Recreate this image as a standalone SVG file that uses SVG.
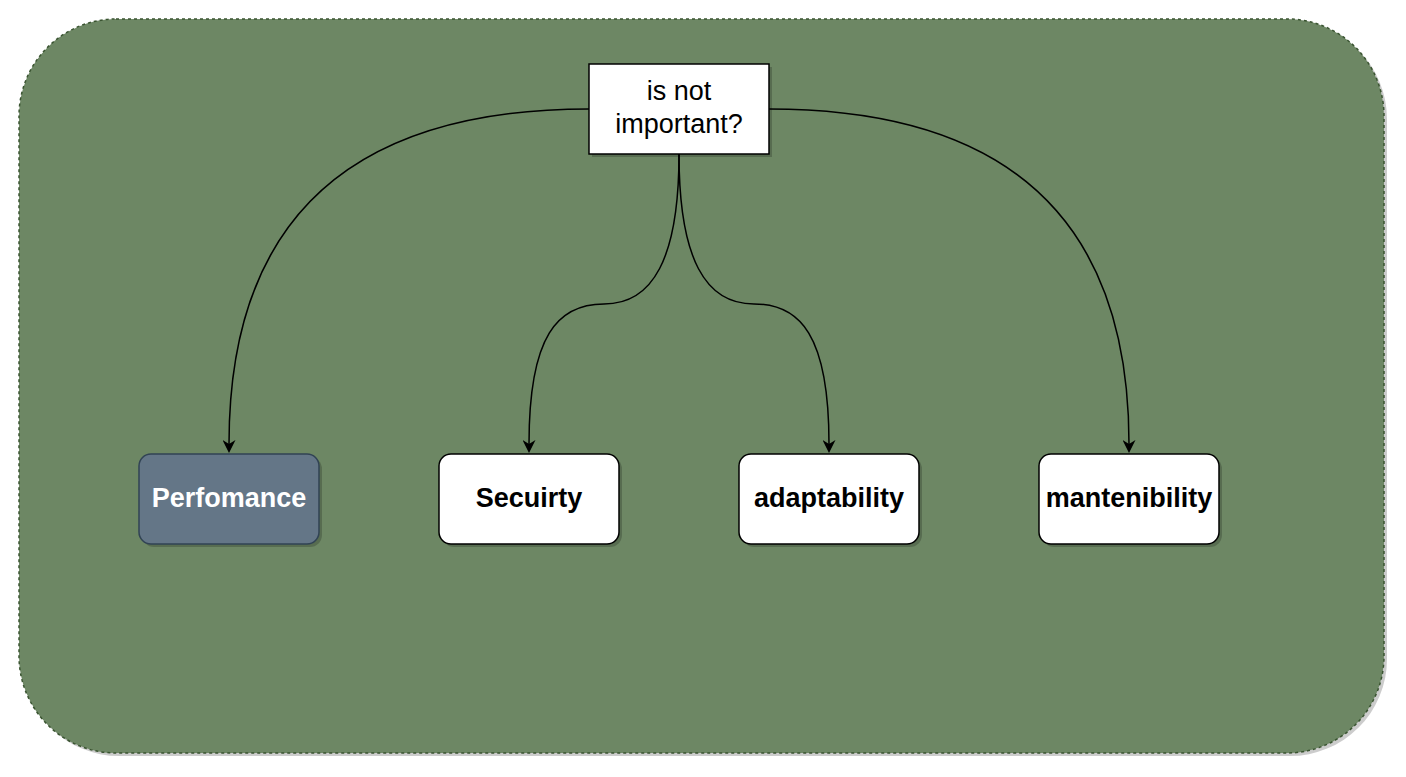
<svg xmlns="http://www.w3.org/2000/svg" width="1406" height="777" viewBox="0 0 1406 777">
<defs>
<marker id="arr" viewBox="0 0 13 13" refX="4" refY="6.5" markerWidth="13" markerHeight="13" markerUnits="userSpaceOnUse" orient="auto">
<path d="M0,0 L13,6.5 L0,13 L4,6.5 Z" fill="#000"/>
</marker>
</defs>
<style>
.shadow{fill:#000;opacity:0.2}
.node{fill:#fff;stroke:#000;stroke-width:1.5}
.lbl{font-family:"Liberation Sans",Arial,sans-serif;font-size:27px;text-anchor:middle;dominant-baseline:central}
.b{font-weight:bold}
.edge{fill:none;stroke:#000;stroke-width:1.5}
</style>
<g id="container">
<rect class="shadow" x="22" y="22" width="1365" height="734" rx="97"/>
<rect x="19" y="19" width="1365" height="734" rx="97" fill="#6d8764" stroke="#3A5431" stroke-width="1.5" stroke-dasharray="3 3"/>
</g>
<g id="connectors">
<path class="edge" d="M589,109 C350,109 229,220 229,444" marker-end="url(#arr)"/>
<path class="edge" d="M769,109 C1008,109 1129,220 1129,444" marker-end="url(#arr)"/>
<path class="edge" d="M679,154 C679,260 652,304 604,304 C558,304 529,335 529,444" marker-end="url(#arr)"/>
<path class="edge" d="M679,154 C679,260 706,304 754,304 C800,304 829,335 829,444" marker-end="url(#arr)"/>
</g>
<g id="question">
<rect class="shadow" x="592" y="67" width="180" height="90"/>
<rect class="node" x="589" y="64" width="180" height="90"/>
<text class="lbl" x="679" y="91">is not</text>
<text class="lbl" x="679" y="124">important?</text>
</g>
<g id="performance">
<rect class="shadow" x="142" y="457" width="180" height="90" rx="12"/>
<rect x="139" y="454" width="180" height="90" rx="12" fill="#647687" stroke="#314354" stroke-width="1.5"/>
<text class="lbl b" x="229" y="498" fill="#fff">Perfomance</text>
</g>
<g id="security">
<rect class="shadow" x="442" y="457" width="180" height="90" rx="12"/>
<rect class="node" x="439" y="454" width="180" height="90" rx="12"/>
<text class="lbl b" x="529" y="498">Secuirty</text>
</g>
<g id="adaptability">
<rect class="shadow" x="742" y="457" width="180" height="90" rx="12"/>
<rect class="node" x="739" y="454" width="180" height="90" rx="12"/>
<text class="lbl b" x="829" y="498">adaptability</text>
</g>
<g id="maintainability">
<rect class="shadow" x="1042" y="457" width="180" height="90" rx="12"/>
<rect class="node" x="1039" y="454" width="180" height="90" rx="12"/>
<text class="lbl b" x="1129" y="498">mantenibility</text>
</g>
</svg>
